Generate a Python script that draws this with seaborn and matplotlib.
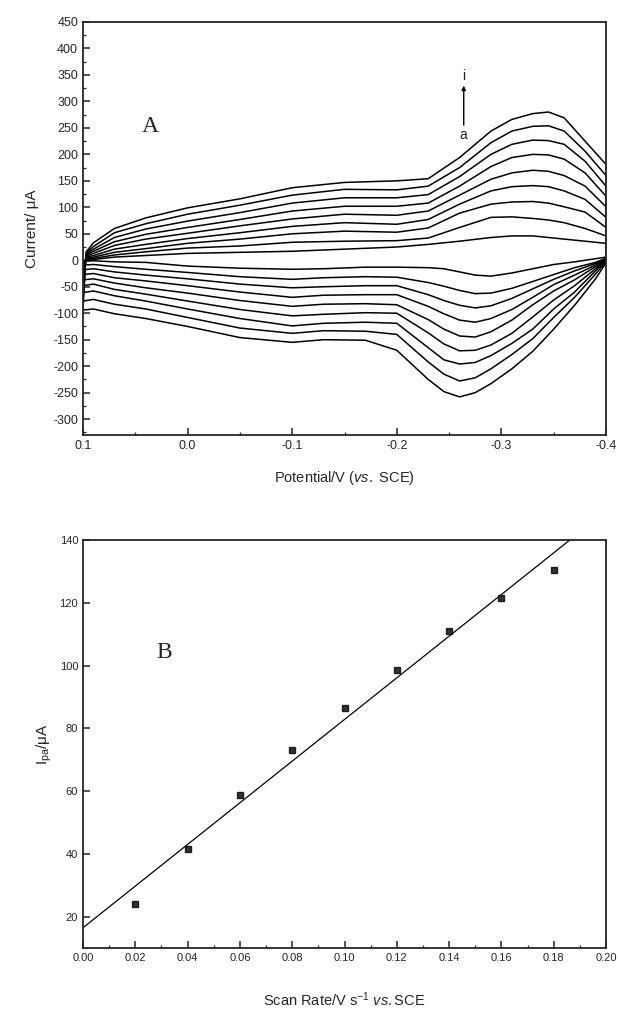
import numpy as np
import pandas as pd
import seaborn as sns
import matplotlib.pyplot as plt
from matplotlib.ticker import MultipleLocator

# --- Panel A: cyclic voltammograms, curves a (slowest) ... i (fastest) ---
curve_names = ["a", "b", "c", "d", "e", "f", "g", "h", "i"]

# forward sweep 0.1 -> -0.4 V (upper branch)
e_fwd = [0.10, 0.097, 0.09, 0.07, 0.04, 0.00, -0.05, -0.10, -0.15, -0.20,
         -0.23, -0.26, -0.29, -0.31, -0.33, -0.345, -0.36, -0.38, -0.40]
fwd_a = [-2, 0, 1.5, 6, 9, 13, 15, 17, 21, 25, 30, 36, 43, 46, 46, 43, 40, 36, 32]
fwd_b = [-9, 2, 3.5, 10, 16, 23, 27, 34, 36, 37, 42, 62, 81, 82, 79, 76, 71, 60, 46]
fwd_c = [-18, 4, 6, 15, 22, 32, 40, 50, 55, 53, 61, 89, 106, 110, 111, 108, 101, 91, 62]
fwd_d = [-27, 6, 9, 21, 30, 41, 52, 64, 71, 68, 77, 106, 131, 139, 141, 139, 131, 115, 81]
fwd_e = [-37, 8, 13, 28, 40, 51, 65, 78, 87, 85, 93, 123, 153, 165, 170, 168, 160, 140, 101]
fwd_f = [-48, 10, 17, 35, 49, 62, 77, 93, 102, 102, 108, 140, 177, 194, 200, 199, 191, 165, 121]
fwd_g = [-61, 12, 21, 43, 59, 74, 90, 108, 118, 118, 124, 158, 200, 219, 227, 226, 219, 187, 140]
fwd_h = [-77, 14, 26, 52, 69, 87, 104, 123, 134, 133, 140, 175, 222, 244, 253, 254, 244, 206, 160]
fwd_i = [-94, 16, 33, 60, 80, 99, 116, 137, 147, 150, 154, 194, 244, 266, 277, 280, 269, 225, 181]

# reverse sweep -0.4 -> 0.1 V (lower branch)
e_rev = [-0.40, -0.39, -0.37, -0.35, -0.33, -0.31, -0.29, -0.275, -0.26, -0.245,
         -0.23, -0.20, -0.17, -0.13, -0.10, -0.05, 0.00, 0.04, 0.07, 0.09, 0.10]
rev_a = [6, 3, -3, -8, -16, -24, -30, -28, -22, -16, -14, -13, -13, -16, -17, -15, -11, -4, -3, -1, -2]
rev_b = [4, -4, -14, -27, -40, -53, -62, -63, -57, -49, -42, -32, -31, -33, -36, -31, -23, -17, -12, -8, -9]
rev_c = [3, -6, -20, -36, -54, -72, -86, -90, -85, -76, -65, -48, -48, -50, -52, -45, -35, -28, -22, -16, -18]
rev_d = [2, -9, -28, -46, -70, -93, -110, -117, -113, -101, -87, -65, -65, -66, -70, -60, -48, -39, -33, -25, -27]
rev_e = [1, -12, -37, -58, -84, -113, -135, -145, -143, -130, -112, -84, -82, -83, -87, -76, -62, -52, -43, -35, -37]
rev_f = [0, -16, -48, -75, -107, -138, -160, -170, -171, -158, -137, -100, -99, -102, -105, -93, -77, -64, -55, -45, -48]
rev_g = [-1, -20, -60, -92, -130, -157, -180, -193, -196, -188, -165, -119, -117, -119, -124, -110, -92, -77, -67, -58, -61]
rev_h = [-3, -26, -70, -108, -148, -178, -205, -222, -228, -215, -192, -140, -134, -133, -138, -128, -108, -92, -83, -74, -77]
rev_i = [-5, -35, -85, -130, -172, -205, -233, -250, -258, -248, -225, -170, -151, -150, -155, -146, -125, -110, -101, -92, -94]

fwd_all = [fwd_a, fwd_b, fwd_c, fwd_d, fwd_e, fwd_f, fwd_g, fwd_h, fwd_i]
rev_all = [rev_a, rev_b, rev_c, rev_d, rev_e, rev_f, rev_g, rev_h, rev_i]

a_xticks = [0.1, 0.0, -0.1, -0.2, -0.3, -0.4]
a_xticklabels = ["0.1", "0.0", "-0.1", "-0.2", "-0.3", "-0.4"]
a_yticks = list(range(-300, 451, 50))

# --- Panel B: peak current vs scan rate ---
scan_rate = [0.02, 0.04, 0.06, 0.08, 0.10, 0.12, 0.14, 0.16, 0.18]
ipa = [23.9, 41.7, 58.6, 73.0, 86.5, 98.6, 110.9, 121.6, 130.5]
b_xticks = [0.00, 0.02, 0.04, 0.06, 0.08, 0.10, 0.12, 0.14, 0.16, 0.18, 0.20]
b_yticks = [20, 40, 60, 80, 100, 120, 140]

# long table for seaborn
rows = []
for name, fwd, rev in zip(curve_names, fwd_all, rev_all):
    pts = list(zip(e_fwd, fwd)) + list(zip(e_rev, rev))
    for k, (e, i) in enumerate(pts):
        rows.append({"curve": name, "step": k, "E": e, "I": i})
cv = pd.DataFrame(rows)
rate_df = pd.DataFrame({"rate": scan_rate, "ipa": ipa})

sns.set_style("ticks")
plt.rcParams["font.family"] = ["Liberation Sans", "DejaVu Sans"]
plt.rcParams["mathtext.fontset"] = "custom"
plt.rcParams["mathtext.rm"] = "Liberation Sans"
plt.rcParams["mathtext.it"] = "Liberation Sans:italic"
plt.rcParams["axes.unicode_minus"] = False
plt.rcParams["axes.linewidth"] = 1.3
plt.rcParams["xtick.direction"] = "in"
plt.rcParams["ytick.direction"] = "in"

fig = plt.figure(figsize=(6.18, 10.17), dpi=100)
W, H = 618, 1017
ax1 = fig.add_axes([83 / W, 1 - 435 / H, (606 - 83) / W, (435 - 22) / H])
ax2 = fig.add_axes([83 / W, 1 - 948 / H, (606 - 83) / W, (948 - 540) / H])

# Panel A
sns.lineplot(data=cv, x="E", y="I", units="curve", estimator=None, sort=False,
             color="black", lw=1.1, ax=ax1)
ax1.set_xlim(0.1, -0.4)
ax1.set_ylim(-330, 450)
ax1.set_xticks(a_xticks)
ax1.set_xticklabels(a_xticklabels)
ax1.set_yticks(a_yticks)
ax1.set_yticklabels([str(v) for v in a_yticks])
ax1.xaxis.set_minor_locator(MultipleLocator(0.05))
ax1.yaxis.set_minor_locator(MultipleLocator(25))
ax1.tick_params(which="major", length=5, width=1.1, labelsize=9)
ax1.tick_params(which="minor", length=2.5, width=0.9)
ax1.set_xlabel("Potential/V ($\\it{vs.}$ SCE)", fontsize=10.5, labelpad=12)
ax1.set_ylabel("Current/ μA", fontsize=11, labelpad=10)
ax1.text(0.036, 253, "A", fontsize=17, family="Liberation Serif", ha="center", va="center")
ax1.annotate("", xy=(-0.264, 335), xytext=(-0.264, 250),
             arrowprops=dict(arrowstyle="-|>", color="black", lw=1.0, mutation_scale=6))
ax1.text(-0.264, 348, "i", fontsize=10, ha="center", va="center")
ax1.text(-0.264, 236, "a", fontsize=10, ha="center", va="center")

# Panel B (xlim first so the fitted line spans the whole axis)
ax2.set_xlim(0.0, 0.2)
ax2.set_ylim(10, 140)
sns.regplot(data=rate_df, x="rate", y="ipa", ci=None, truncate=False, marker="s",
            scatter_kws={"s": 14, "color": "black"},
            line_kws={"color": "black", "lw": 0.9}, ax=ax2)
ax2.set_xlim(0.0, 0.2)
ax2.set_ylim(10, 140)
ax2.set_xticks(b_xticks)
ax2.set_xticklabels([f"{v:.2f}" for v in b_xticks])
ax2.set_yticks(b_yticks)
ax2.set_yticklabels([str(v) for v in b_yticks])
ax2.xaxis.set_minor_locator(MultipleLocator(0.01))
ax2.tick_params(which="major", length=5, width=1.1, labelsize=8)
ax2.tick_params(which="minor", length=2.5, width=0.9)
ax2.set_xlabel("Scan Rate/V s$^{-1}$ $\\it{vs.}$SCE", fontsize=10.5, labelpad=20)
ax2.set_ylabel("I$_\\mathrm{pa}$/μA", fontsize=11, labelpad=4)
ax2.text(0.031, 104, "B", fontsize=17, family="Liberation Serif", ha="center", va="center")

fig.savefig("out.png", dpi=100)
